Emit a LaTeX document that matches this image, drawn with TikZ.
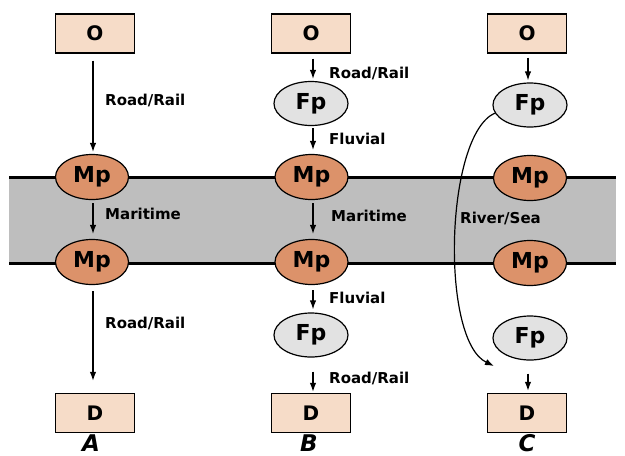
\documentclass[tikz,border=0pt]{standalone}
\usepackage{fontspec}
\setmainfont{DejaVu Sans}
\usetikzlibrary{arrows.meta,shapes.geometric}
\definecolor{boxfill}{RGB}{246,220,200}
\definecolor{mpfill}{RGB}{220,146,106}
\definecolor{fpfill}{RGB}{226,226,226}
\definecolor{band}{RGB}{190,190,190}
\tikzset{
  odbox/.style={draw=black, line width=1.4pt, fill=boxfill, minimum width=79pt, minimum height=39pt, inner sep=0pt, font=\fontsize{20}{20}\selectfont\bfseries},
  mport/.style={draw=black, line width=1.2pt, ellipse, fill=mpfill, minimum width=73pt, minimum height=45pt, inner sep=0pt, font=\fontsize{22}{22}\selectfont\bfseries},
  fport/.style={draw=black, line width=1.2pt, ellipse, fill=fpfill, minimum width=74pt, minimum height=44pt, inner sep=0pt, font=\fontsize{22}{22}\selectfont\bfseries},
  lbl/.style={anchor=west, inner sep=0pt, font=\fontsize{15}{15}\selectfont\bfseries},
  clbl/.style={inner sep=0pt, anchor=base, font=\fontsize{23}{23}\selectfont\bfseries\itshape},
  flow/.style={-{Latex[length=9pt,width=6.5pt]}, line width=1.2pt},
}
\begin{document}
\begin{tikzpicture}[x=1pt,y=-1pt]
\useasboundingbox (0,0) rectangle (625,456);
% band
\fill[band] (9,177) rectangle (616,263);
\draw[line width=3pt] (9,177) -- (616,177);
\draw[line width=3pt] (9,263) -- (616,263);
% column A
\node[odbox] (oa) at (95,33.5) {O};
\node[mport] (mpa1) at (92,177) {Mp};
\node[mport] (mpa2) at (92,262) {Mp};
\node[odbox] (da) at (95,413) {D};
% column B
\node[odbox] (ob) at (311,33.5) {O};
\node[fport] (fpb1) at (311,103.5) {Fp};
\node[mport] (mpb1) at (311.5,177) {Mp};
\node[mport] (mpb2) at (311.5,262) {Mp};
\node[fport] (fpb2) at (311,335) {Fp};
\node[odbox] (db) at (311,413) {D};
% column C
\node[odbox] (oc) at (527,33.5) {O};
\node[fport] (fpc1) at (530,105) {Fp};
\node[mport] (mpc1) at (530,178) {Mp};
\node[mport] (mpc2) at (530,263) {Mp};
\node[fport] (fpc2) at (530,338) {Fp};
\node[odbox] (dc) at (527,413) {D};
% arrows A
\draw[flow, shorten <=7pt, shorten >=2pt] (oa.south -| 93,0) -- (mpa1.north -| 93,0);
\draw[flow, shorten <=3pt, shorten >=5pt] (mpa1.south -| 93,0) -- (mpa2.north -| 93,0);
\draw[flow, shorten <=6pt, shorten >=12pt] (mpa2.south -| 93,0) -- (da.north -| 93,0);
% arrows B
\draw[flow, shorten <=5pt, shorten >=2pt] (ob.south -| 313,0) -- (fpb1.north -| 313,0);
\draw[flow, shorten <=2pt, shorten >=4pt] (fpb1.south -| 313,0) -- (mpb1.north -| 313,0);
\draw[flow, shorten <=3pt, shorten >=5pt] (mpb1.south -| 313,0) -- (mpb2.north -| 313,0);
\draw[flow, shorten <=5pt, shorten >=3pt] (mpb2.south -| 313,0) -- (fpb2.north -| 313,0);
\draw[flow, shorten <=14pt, shorten >=1pt] (fpb2.south -| 313,0) -- (db.north -| 313,0);
% arrows C
\draw[flow, shorten <=4pt, shorten >=2pt] (oc.south -| 528,0) -- (fpc1.north -| 528,0);
\draw[flow, shorten <=13pt, shorten >=2pt] (fpc2.south -| 528,0) -- (dc.north -| 528,0);
\coordinate (cend) at (494,366);
\draw[flow] (fpc1.193) .. controls (445,135) and (440,340) .. (cend);
% labels
\node[lbl] (la1) at (105,100) {Road/Rail};
\node[lbl] (la2) at (105,214) {Maritime};
\node[lbl] (la3) at (105,323) {Road/Rail};
\node[lbl] (lb1) at (329,73) {Road/Rail};
\node[lbl] (lb2) at (329,139) {Fluvial};
\node[lbl] (lb3) at (331,216) {Maritime};
\node[lbl] (lb4) at (329,298) {Fluvial};
\node[lbl] (lb5) at (329,378) {Road/Rail};
\node[lbl] (lc1) at (460,218) {River/Sea};
\node[clbl] (ca) at (91,451) {A};
\node[clbl] (cb) at (309,451) {B};
\node[clbl] (cc) at (527,451) {C};
\end{tikzpicture}
\end{document}
